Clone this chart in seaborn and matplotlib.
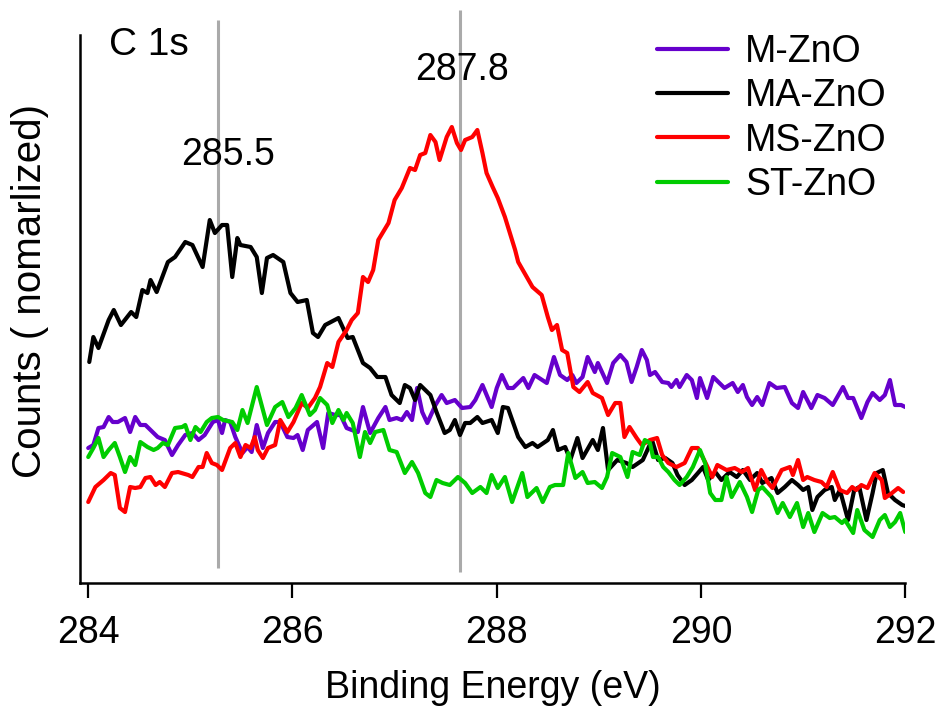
import numpy as np
import pandas as pd
import seaborn as sns
import matplotlib.pyplot as plt

# C 1s spectra, counts normalized (arbitrary units)
e_m = [284.00, 284.05, 284.10, 284.15, 284.20, 284.24, 284.29, 284.36, 284.41, 284.46,
       284.51, 284.56, 284.63, 284.68, 284.75, 284.82, 284.88, 284.95, 285.02, 285.08,
       285.14, 285.22, 285.27, 285.31, 285.34, 285.39, 285.44, 285.51, 285.56, 285.60,
       285.65, 285.71, 285.76, 285.83, 285.88, 285.95, 286.01, 286.05, 286.10, 286.15,
       286.24, 286.30, 286.35, 286.42, 286.47, 286.53, 286.58, 286.64, 286.69, 286.76,
       286.84, 286.91, 286.95, 287.02, 287.07, 287.12, 287.17, 287.22, 287.27, 287.32,
       287.40, 287.46, 287.51, 287.59, 287.66, 287.74, 287.79, 287.86, 287.95, 288.00,
       288.05, 288.11, 288.16, 288.26, 288.31, 288.37, 288.49, 288.56, 288.62, 288.69,
       288.74, 288.78, 288.84, 288.89, 288.96, 288.99, 289.08, 289.14, 289.21, 289.27,
       289.32, 289.37, 289.42, 289.47, 289.50, 289.55, 289.62, 289.68, 289.71, 289.76,
       289.79, 289.86, 289.91, 289.96, 289.99, 290.06, 290.12, 290.18, 290.23, 290.31,
       290.36, 290.41, 290.45, 290.50, 290.55, 290.60, 290.67, 290.74, 290.82, 290.89,
       290.95, 291.00, 291.08, 291.14, 291.21, 291.29, 291.39, 291.44, 291.49, 291.57,
       291.63, 291.68, 291.75, 291.80, 291.85, 291.90, 291.96, 292.00]
c_m = [1.35, 1.38, 1.55, 1.56, 1.66, 1.61, 1.61, 1.65, 1.51, 1.66,
       1.58, 1.58, 1.51, 1.46, 1.43, 1.28, 1.38, 1.48, 1.50, 1.43,
       1.48, 1.61, 1.63, 1.50, 1.63, 1.61, 1.46, 1.30, 1.36, 1.31,
       1.58, 1.35, 1.50, 1.61, 1.61, 1.46, 1.45, 1.48, 1.33, 1.53,
       1.61, 1.35, 1.70, 1.68, 1.68, 1.55, 1.53, 1.51, 1.76, 1.50,
       1.65, 1.76, 1.63, 1.65, 1.63, 1.71, 1.63, 1.95, 1.71, 1.60,
       1.78, 1.88, 1.80, 1.83, 1.75, 1.76, 1.83, 1.98, 1.76, 1.95,
       2.08, 1.95, 1.95, 2.05, 1.95, 2.08, 2.00, 2.26, 2.08, 2.03,
       2.08, 2.00, 2.06, 2.26, 2.11, 2.20, 2.00, 2.20, 2.28, 2.21,
       2.01, 2.16, 2.33, 2.23, 2.08, 2.11, 2.01, 2.00, 1.96, 2.03,
       1.96, 2.08, 2.03, 1.85, 2.05, 1.85, 2.06, 2.00, 1.95, 2.00,
       1.91, 1.98, 1.86, 1.78, 1.86, 1.78, 2.00, 1.95, 1.96, 1.80,
       1.75, 1.91, 1.75, 1.88, 1.85, 1.78, 1.96, 1.85, 1.85, 1.65,
       1.81, 1.90, 1.83, 1.88, 2.03, 1.78, 1.78, 1.76]

e_ma = [284.01, 284.05, 284.10, 284.20, 284.25, 284.32, 284.42, 284.47, 284.53, 284.58,
        284.61, 284.67, 284.78, 284.85, 284.95, 285.02, 285.12, 285.19, 285.24, 285.31,
        285.36, 285.41, 285.46, 285.49, 285.59, 285.65, 285.70, 285.75, 285.81, 285.91,
        285.98, 286.05, 286.14, 286.20, 286.25, 286.32, 286.45, 286.54, 286.59, 286.69,
        286.76, 286.83, 286.91, 286.97, 287.05, 287.10, 287.15, 287.20, 287.25, 287.35,
        287.41, 287.49, 287.54, 287.59, 287.64, 287.69, 287.74, 287.81, 287.86, 287.95,
        288.01, 288.06, 288.11, 288.21, 288.28, 288.35, 288.40, 288.50, 288.55, 288.60,
        288.67, 288.72, 288.79, 288.84, 288.94, 288.99, 289.04, 289.09, 289.18, 289.27,
        289.33, 289.43, 289.52, 289.58, 289.65, 289.72, 289.77, 289.84, 289.91, 289.97,
        290.02, 290.07, 290.14, 290.20, 290.28, 290.35, 290.41, 290.48, 290.55, 290.60,
        290.69, 290.75, 290.82, 290.89, 290.95, 291.00, 291.05, 291.09, 291.14, 291.21,
        291.28, 291.31, 291.36, 291.44, 291.50, 291.55, 291.62, 291.68, 291.72, 291.78,
        291.83, 291.90, 291.97, 292.00]
c_ma = [2.21, 2.46, 2.35, 2.63, 2.73, 2.58, 2.71, 2.66, 2.93, 2.90,
        3.03, 2.91, 3.21, 3.26, 3.41, 3.38, 3.16, 3.63, 3.50, 3.58,
        3.58, 3.06, 3.45, 3.38, 3.36, 3.26, 2.90, 3.25, 3.28, 3.21,
        2.90, 2.81, 2.83, 2.50, 2.46, 2.58, 2.65, 2.45, 2.46, 2.20,
        2.15, 2.06, 2.06, 1.88, 1.80, 1.98, 1.95, 1.83, 1.98, 1.88,
        1.71, 1.50, 1.53, 1.63, 1.48, 1.60, 1.60, 1.66, 1.60, 1.63,
        1.50, 1.76, 1.75, 1.46, 1.36, 1.40, 1.36, 1.43, 1.53, 1.33,
        1.36, 1.23, 1.45, 1.25, 1.43, 1.33, 1.55, 1.13, 1.23, 1.20,
        1.16, 1.23, 1.43, 1.23, 1.25, 1.20, 1.08, 0.98, 1.03, 1.10,
        1.16, 1.03, 1.11, 1.03, 1.11, 1.06, 1.13, 1.03, 1.10, 1.00,
        1.05, 0.90, 0.96, 1.03, 0.98, 0.93, 0.96, 0.73, 0.86, 0.93,
        0.96, 0.83, 0.93, 0.63, 0.93, 0.96, 0.63, 0.90, 1.10, 1.13,
        0.90, 0.83, 0.78, 0.77]

e_ms = [284.00, 284.07, 284.15, 284.22, 284.26, 284.31, 284.36, 284.41, 284.46, 284.51,
        284.56, 284.61, 284.66, 284.70, 284.75, 284.82, 284.88, 284.98, 285.02, 285.08,
        285.12, 285.16, 285.21, 285.26, 285.31, 285.39, 285.44, 285.49, 285.54, 285.59,
        285.63, 285.66, 285.71, 285.76, 285.83, 285.88, 285.95, 286.01, 286.09, 286.15,
        286.22, 286.27, 286.34, 286.39, 286.45, 286.53, 286.58, 286.64, 286.69, 286.74,
        286.79, 286.84, 286.94, 287.00, 287.07, 287.15, 287.20, 287.25, 287.30, 287.35,
        287.40, 287.44, 287.51, 287.56, 287.61, 287.65, 287.69, 287.76, 287.81, 287.86,
        287.90, 287.96, 288.01, 288.08, 288.18, 288.21, 288.30, 288.35, 288.44, 288.50,
        288.54, 288.59, 288.64, 288.69, 288.75, 288.81, 288.89, 288.94, 289.03, 289.09,
        289.16, 289.21, 289.25, 289.30, 289.37, 289.42, 289.50, 289.57, 289.62, 289.68,
        289.76, 289.84, 289.91, 289.97, 290.04, 290.11, 290.16, 290.25, 290.33, 290.40,
        290.46, 290.53, 290.59, 290.65, 290.70, 290.79, 290.87, 290.90, 290.95, 291.00,
        291.04, 291.11, 291.18, 291.23, 291.29, 291.36, 291.43, 291.48, 291.52, 291.57,
        291.63, 291.70, 291.77, 291.80, 291.87, 291.93, 291.98]
c_ms = [0.81, 0.96, 1.03, 1.10, 1.08, 0.75, 0.71, 0.96, 0.95, 0.96,
        1.05, 1.06, 0.98, 1.01, 0.96, 1.10, 1.11, 1.08, 1.06, 1.16,
        1.16, 1.30, 1.20, 1.18, 1.13, 1.35, 1.40, 1.26, 1.38, 1.35,
        1.46, 1.33, 1.25, 1.35, 1.38, 1.63, 1.51, 1.61, 1.80, 1.75,
        1.85, 1.96, 2.20, 2.16, 2.41, 2.53, 2.63, 2.70, 3.06, 3.01,
        3.13, 3.43, 3.60, 3.83, 3.95, 4.15, 4.13, 4.28, 4.30, 4.48,
        4.41, 4.23, 4.46, 4.56, 4.40, 4.33, 4.43, 4.46, 4.53, 4.30,
        4.10, 3.96, 3.85, 3.66, 3.33, 3.21, 3.05, 2.96, 2.88, 2.66,
        2.53, 2.58, 2.33, 2.30, 1.96, 1.91, 2.01, 1.90, 1.85, 1.68,
        1.80, 1.80, 1.46, 1.56, 1.45, 1.38, 1.43, 1.45, 1.28, 1.20,
        1.16, 1.20, 1.35, 1.35, 1.21, 1.06, 1.18, 1.13, 1.15, 1.11,
        1.15, 0.93, 1.13, 1.01, 0.95, 1.13, 1.16, 1.08, 1.23, 1.03,
        1.06, 1.03, 1.01, 0.96, 1.11, 0.93, 0.90, 0.96, 0.93, 0.98,
        0.95, 1.10, 1.03, 0.85, 0.90, 0.95, 0.91]

e_st = [284.00, 284.05, 284.10, 284.15, 284.20, 284.26, 284.31, 284.36, 284.41, 284.46,
        284.51, 284.58, 284.64, 284.68, 284.73, 284.78, 284.85, 284.92, 284.95, 285.00,
        285.05, 285.10, 285.16, 285.21, 285.27, 285.32, 285.41, 285.46, 285.51, 285.56,
        285.65, 285.75, 285.83, 285.90, 285.96, 286.03, 286.09, 286.17, 286.22, 286.27,
        286.34, 286.39, 286.45, 286.50, 286.53, 286.59, 286.66, 286.71, 286.76, 286.81,
        286.89, 286.95, 287.02, 287.10, 287.17, 287.23, 287.30, 287.35, 287.41, 287.47,
        287.54, 287.62, 287.69, 287.76, 287.84, 287.90, 287.95, 288.01, 288.08, 288.15,
        288.25, 288.30, 288.39, 288.45, 288.52, 288.57, 288.65, 288.70, 288.77, 288.84,
        288.89, 288.96, 289.03, 289.08, 289.13, 289.21, 289.28, 289.33, 289.40, 289.45,
        289.50, 289.53, 289.58, 289.63, 289.68, 289.74, 289.79, 289.86, 289.92, 289.99,
        290.04, 290.09, 290.14, 290.20, 290.25, 290.30, 290.38, 290.45, 290.50, 290.56,
        290.60, 290.69, 290.75, 290.80, 290.87, 290.94, 291.00, 291.05, 291.11, 291.19,
        291.26, 291.31, 291.38, 291.41, 291.49, 291.53, 291.60, 291.68, 291.75, 291.80,
        291.85, 291.90, 291.95, 292.00]
c_st = [1.26, 1.35, 1.45, 1.26, 1.33, 1.40, 1.26, 1.11, 1.26, 1.18,
        1.41, 1.36, 1.33, 1.35, 1.40, 1.38, 1.55, 1.56, 1.58, 1.43,
        1.56, 1.51, 1.61, 1.65, 1.66, 1.63, 1.61, 1.53, 1.73, 1.60,
        1.96, 1.58, 1.76, 1.81, 1.66, 1.75, 1.88, 1.68, 1.73, 1.85,
        1.78, 1.60, 1.73, 1.63, 1.70, 1.60, 1.26, 1.51, 1.40, 1.51,
        1.53, 1.33, 1.31, 1.10, 1.21, 1.10, 0.90, 0.86, 1.03, 1.00,
        0.98, 1.06, 1.00, 0.90, 0.96, 0.90, 1.08, 0.95, 1.06, 0.81,
        1.10, 0.86, 0.95, 0.81, 0.96, 0.98, 0.98, 1.30, 1.05, 1.11,
        1.00, 1.01, 0.95, 1.06, 1.30, 1.26, 1.06, 1.31, 1.28, 1.43,
        1.40, 1.26, 1.26, 1.16, 1.11, 1.03, 0.98, 1.06, 1.16, 1.33,
        1.20, 0.90, 0.83, 0.83, 1.06, 0.86, 1.01, 0.86, 0.71, 0.93,
        0.96, 0.86, 0.70, 0.80, 0.66, 0.80, 0.56, 0.70, 0.51, 0.70,
        0.65, 0.66, 0.60, 0.63, 0.50, 0.73, 0.53, 0.46, 0.63, 0.68,
        0.56, 0.61, 0.70, 0.51]

samples = ["M-ZnO", "MA-ZnO", "MS-ZnO", "ST-ZnO"]
colors = ["#6600cc", "#000000", "#ff0000", "#00cc00"]
peak_pos = [285.27, 287.64]
peak_labels = ["285.5", "287.8"]

df = pd.concat([
    pd.DataFrame({"energy": e, "counts": c, "sample": s})
    for e, c, s in zip([e_m, e_ma, e_ms, e_st], [c_m, c_ma, c_ms, c_st], samples)
], ignore_index=True)

sns.set_style("ticks")
plt.rcParams["font.family"] = ["Liberation Sans", "DejaVu Sans"]
plt.rcParams["text.color"] = "black"
plt.rcParams["axes.labelcolor"] = "black"
plt.rcParams["xtick.color"] = "black"

fig = plt.figure(figsize=(9.42, 7.15), dpi=100)
ax = fig.add_axes([0.085, 0.1846, 0.876, 0.8014])

# reference lines behind the spectra
ax.vlines(peak_pos[0], 0.15, 5.63, color="#aaaaaa", lw=2.2, zorder=1)
ax.vlines(peak_pos[1], 0.11, 5.73, color="#aaaaaa", lw=2.2, zorder=1)

sns.lineplot(data=df, x="energy", y="counts", hue="sample", palette=colors,
             hue_order=samples, estimator=None, sort=False, lw=3, ax=ax, zorder=2)

ax.set_xlim(283.92, 292.0)
ax.set_ylim(0, 5.73)
ax.set_xticks([284, 286, 288, 290, 292])
ax.set_yticks([])
ax.tick_params(axis="x", length=11, width=1.6, pad=12, labelsize=27,
               color="black", labelcolor="black")
for side in ["top", "right"]:
    ax.spines[side].set_visible(False)
for side in ["left", "bottom"]:
    ax.spines[side].set_linewidth(1.8)
    ax.spines[side].set_color("black")
ax.spines["left"].set_bounds(0, 5.48)

ax.set_xlabel("Binding Energy (eV)", fontsize=27, labelpad=14, color="black")
ax.set_ylabel("Counts ( nomarlized)", fontsize=29, color="black")
ax.yaxis.set_label_coords(-0.038, 0.51)

ax.text(284.2, 5.38, "C 1s", fontsize=28, ha="left", va="center")
ax.text(285.37, 4.28, peak_labels[0], fontsize=27, ha="center", va="center")
ax.text(287.66, 5.13, peak_labels[1], fontsize=27, ha="center", va="center")

leg = ax.legend(loc="upper left", bbox_to_anchor=(0.699, 0.958), frameon=False,
                fontsize=27, handlelength=1.9, handletextpad=0.45, labelspacing=0.22,
                borderpad=0, borderaxespad=0)
for t in leg.get_texts():
    t.set_color("black")

fig.savefig("out.png", dpi=100)
